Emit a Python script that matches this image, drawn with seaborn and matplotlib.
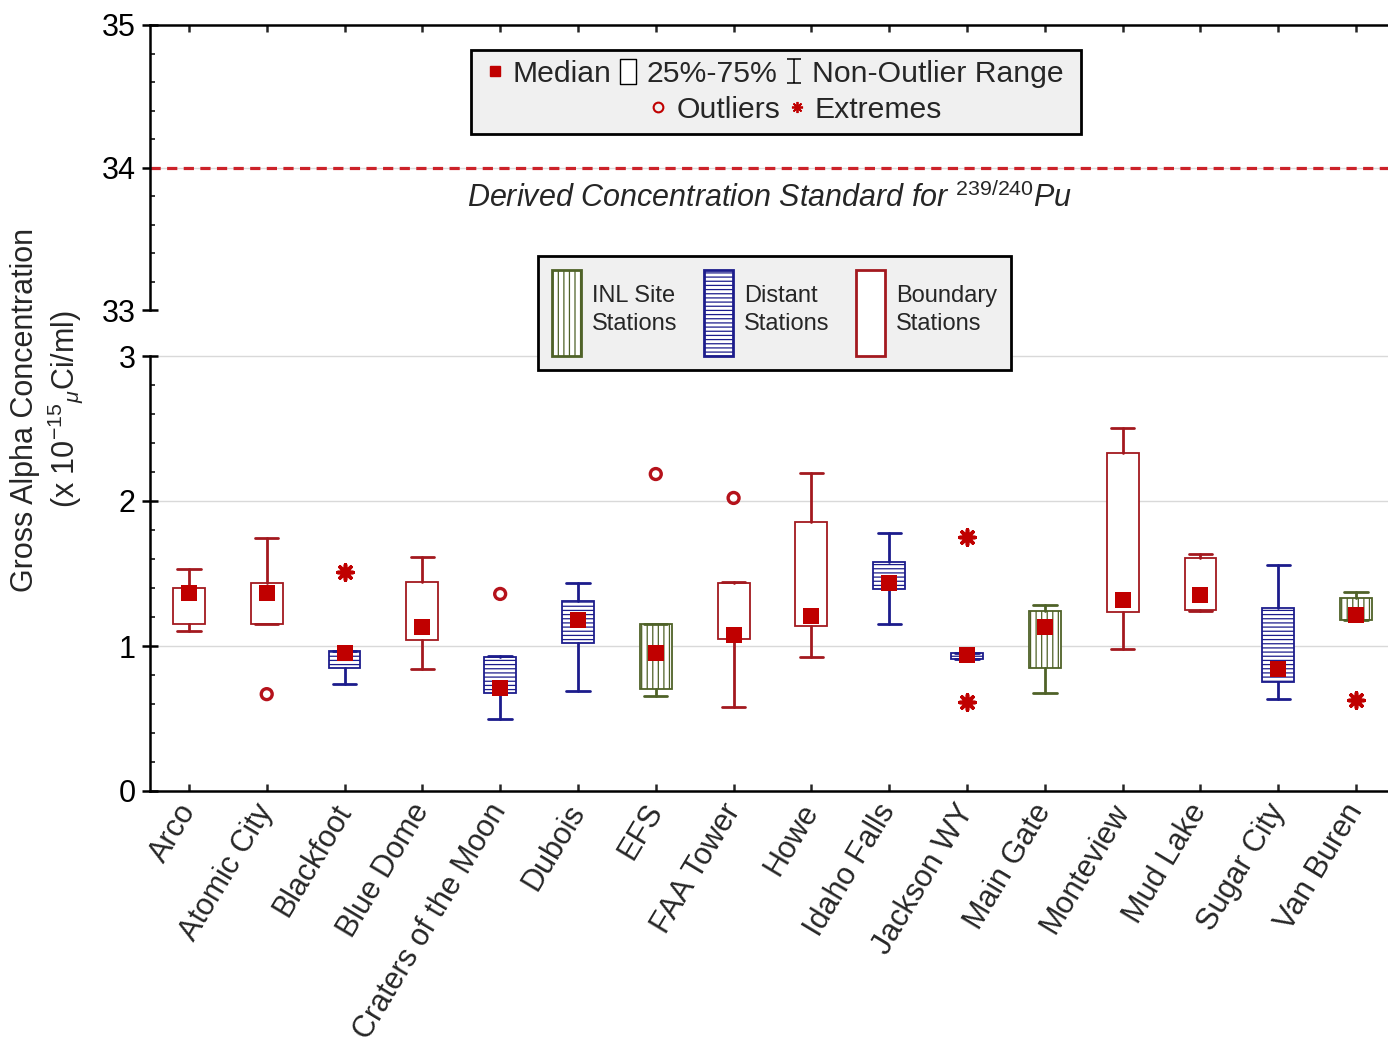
import numpy as np
import pandas as pd
import matplotlib
matplotlib.use("Agg")
import matplotlib.pyplot as plt
import seaborn as sns
from matplotlib.lines import Line2D
from matplotlib.patches import Patch, Rectangle
from matplotlib.path import Path
from matplotlib.ticker import MultipleLocator

# ---------------- data ----------------
stations = ["Arco", "Atomic City", "Blackfoot", "Blue Dome", "Craters of the Moon",
            "Dubois", "EFS", "FAA Tower", "Howe", "Idaho Falls", "Jackson WY",
            "Main Gate", "Monteview", "Mud Lake", "Sugar City", "Van Buren"]
groups = ["Boundary", "Boundary", "Distant", "Boundary", "Distant",
          "Distant", "INL", "Boundary", "Boundary", "Distant", "Distant",
          "INL", "Boundary", "Boundary", "Distant", "INL"]
whisker_low = [1.106, 1.150, 0.738, 0.839, 0.497, 0.692, 0.655, 0.581,
               0.921, 1.152, 0.910, 0.673, 0.976, 1.241, 0.634, 1.179]
q1 = [1.152, 1.150, 0.846, 1.041, 0.679, 1.023, 0.701, 1.048,
      1.140, 1.390, 0.910, 0.845, 1.234, 1.251, 0.754, 1.179]
medians = [1.363, 1.363, 0.950, 1.133, 0.708, 1.179, 0.950, 1.076,
           1.207, 1.437, 0.938, 1.133, 1.317, 1.355, 0.839, 1.217]
q3 = [1.400, 1.437, 0.968, 1.444, 0.921, 1.308, 1.152, 1.437,
      1.856, 1.580, 0.955, 1.244, 2.328, 1.610, 1.259, 1.332]
whisker_high = [1.529, 1.743, 0.968, 1.616, 0.930, 1.437, 1.155, 1.440,
                2.195, 1.777, 0.955, 1.283, 2.506, 1.632, 1.559, 1.369]
outlier_station = ["Atomic City", "Craters of the Moon", "EFS", "FAA Tower"]
outlier_value = [0.668, 1.359, 2.186, 2.021]
extreme_station = ["Blackfoot", "Jackson WY", "Jackson WY", "Van Buren"]
extreme_value = [1.512, 1.753, 0.616, 0.631]
dcs_value = 34.0
lower_ticks = [0, 1, 2, 3]
upper_ticks = [33, 34, 35]

group_colors = {"INL": "#4f6228", "Distant": "#1c1c8c", "Boundary": "#a3191f"}
group_hatch = {"INL": "|||", "Distant": "----", "Boundary": None}
group_labels = {"INL": "INL Site\nStations", "Distant": "Distant\nStations",
                "Boundary": "Boundary\nStations"}
RED = "#c00000"

# ---------------- style ----------------
sns.set_theme(style="white")
plt.rcParams["font.family"] = ["Liberation Sans", "DejaVu Sans"]
plt.rcParams["mathtext.fontset"] = "custom"
plt.rcParams["mathtext.rm"] = "Liberation Sans"
plt.rcParams["mathtext.it"] = "Liberation Sans:italic"
plt.rcParams["hatch.linewidth"] = 0.9

W, H = 1388, 1046
fig = plt.figure(figsize=(W / 100, H / 100), dpi=100)


def fx(px):
    return px / W


def fy(py):
    return 1 - py / H


L, R = 150, 1395
ax_top = fig.add_axes([fx(L), fy(310), fx(R) - fx(L), fy(25) - fy(310)])
ax = fig.add_axes([fx(L), fy(791), fx(R) - fx(L), fy(356) - fy(791)])

n = len(stations)
pos = np.arange(n)

# ---------------- boxes ----------------
stats = [dict(med=m, q1=a, q3=b, whislo=lo, whishi=hi, fliers=[], label=s)
         for s, lo, a, m, b, hi in zip(stations, whisker_low, q1, medians, q3, whisker_high)]
bp = ax.bxp(stats, positions=pos, widths=0.41, capwidths=0.3, patch_artist=True,
            showfliers=False, medianprops=dict(linewidth=0),
            whiskerprops=dict(linewidth=2.0), capprops=dict(linewidth=2.0),
            boxprops=dict(linewidth=1.3), manage_ticks=False)
for i, g in enumerate(groups):
    c = group_colors[g]
    box = bp["boxes"][i]
    box.set_facecolor("white")
    box.set_edgecolor(c)
    if group_hatch[g]:
        box.set_hatch(group_hatch[g])
    for art in bp["whiskers"][2 * i:2 * i + 2] + bp["caps"][2 * i:2 * i + 2]:
        art.set_color(c)

# medians, outliers, extremes via seaborn
df_med = pd.DataFrame({"pos": pos, "median": medians})
sns.scatterplot(data=df_med, x="pos", y="median", marker="s", s=118, color=RED,
                linewidth=0, ax=ax, zorder=5)
df_out = pd.DataFrame({"pos": [stations.index(s) for s in outlier_station],
                       "value": outlier_value})
sns.scatterplot(data=df_out, x="pos", y="value", marker="o", s=62, facecolor="none",
                edgecolor="#b5121b", linewidth=2.4, ax=ax, zorder=5)
df_ext = pd.DataFrame({"pos": [stations.index(s) for s in extreme_station],
                       "value": extreme_value})
sns.scatterplot(data=df_ext, x="pos", y="value", marker=(8, 2, 0), s=120, color=RED,
                linewidth=2.6, ax=ax, zorder=5)

# ---------------- axes formatting ----------------
for a in (ax, ax_top):
    a.set_xlim(-0.5, n - 0.5)
    a.set_xlabel("")
    a.set_ylabel("")
    for sp in a.spines.values():
        sp.set_linewidth(1.8)
        sp.set_color("black")
    a.spines["right"].set_visible(False)
    a.yaxis.set_minor_locator(MultipleLocator(0.2))
    a.tick_params(axis="y", which="major", left=True, direction="inout", length=11,
                  width=1.8, labelsize=22, pad=5, colors="black")
    a.tick_params(axis="y", which="minor", left=True, direction="in", length=3.5,
                  width=1.3)

ax.set_ylim(0, 3)
ax.set_yticks(lower_ticks)
ax.spines["top"].set_visible(False)
for v in lower_ticks[1:]:
    ax.axhline(v, color="#d9d9d9", lw=1.0, zorder=0, clip_on=False)
ax.set_xticks(pos)
ax.set_xticklabels(stations, rotation=59, ha="right", va="center",
                   rotation_mode="anchor", fontsize=22)
ax.tick_params(axis="x", bottom=True, direction="in", length=5, width=1.8, pad=11)

ax_top.set_ylim(33, 35)
ax_top.set_yticks(upper_ticks)
ax_top.spines["bottom"].set_visible(False)
ax_top.set_xticks(pos)
ax_top.tick_params(axis="x", top=True, bottom=False, labelbottom=False,
                   direction="in", length=5, width=1.8)
ax_top.axhline(dcs_value, color="#d9d9d9", lw=1.0, zorder=1)
ax_top.axhline(dcs_value, color="#cc2229", lw=2.3, linestyle=(0, (3.2, 2.0)), zorder=2)
fig.text(fx(770), fy(198), r"Derived Concentration Standard for $^{\mathit{239/240}}$Pu",
         style="italic", fontsize=22, ha="center", va="center")

# y label
fig.text(fx(25), fy(410), "Gross Alpha Concentration", rotation=90, fontsize=22,
         ha="center", va="center")
fig.text(fx(66), fy(409), r"(x 10$^{-15}$$_{\mu}$Ci/ml)", rotation=90, fontsize=22,
         ha="center", va="center")

# ---------------- legend 1 (box plot key) ----------------
fig.add_artist(Rectangle((fx(471), fy(134)), fx(1081) - fx(471), fy(50) - fy(134),
                         transform=fig.transFigure, facecolor="#f0f0f0",
                         edgecolor="black", linewidth=2, zorder=4))
box_path = Path([(-0.33, -0.5), (0.33, -0.5), (0.33, 0.5), (-0.33, 0.5), (-0.33, -0.5)],
                [Path.MOVETO, Path.LINETO, Path.LINETO, Path.LINETO, Path.CLOSEPOLY])
ibeam_path = Path([(-0.3, -0.5), (0.3, -0.5), (0, -0.5), (0, 0.5), (-0.3, 0.5), (0.3, 0.5)],
                  [Path.MOVETO, Path.LINETO, Path.MOVETO, Path.LINETO, Path.MOVETO, Path.LINETO])
h_med = Line2D([], [], marker="s", linestyle="none", color=RED, markersize=7.5)
h_box = Line2D([], [], marker=box_path, linestyle="none", markerfacecolor="white",
               markeredgecolor="black", markeredgewidth=1.0, markersize=18)
h_rng = Line2D([], [], marker=ibeam_path, linestyle="none", markerfacecolor="none",
               markeredgecolor="black", markeredgewidth=1.1, markersize=17)
leg1 = fig.legend([h_med, h_box, h_rng], ["Median", "25%-75%", "Non-Outlier Range"],
                  loc="center", bbox_to_anchor=(fx(774), fy(74)), ncol=3, frameon=False,
                  fontsize=21.7, handlelength=0.7, handletextpad=0.25, columnspacing=0.2,
                  borderpad=0, borderaxespad=0)
h_out = Line2D([], [], marker="o", linestyle="none", markerfacecolor="none",
               markeredgecolor=RED, markeredgewidth=1.5, markersize=7)
h_ext = Line2D([], [], marker=(8, 2, 0), linestyle="none", color=RED,
               markeredgewidth=1.3, markersize=8)
leg1b = fig.legend([h_out, h_ext], ["Outliers", "Extremes"], loc="center",
                   bbox_to_anchor=(fx(795), fy(110)), ncol=2, frameon=False,
                   fontsize=21.7, handlelength=0.7, handletextpad=0.25, columnspacing=0.2,
                   borderpad=0, borderaxespad=0)
leg1.set_zorder(6)
leg1b.set_zorder(6)

# ---------------- legend 2 (station groups) ----------------
grp_order = ["INL", "Distant", "Boundary"]
grp_handles = [Patch(facecolor="white", edgecolor=group_colors[g], hatch=group_hatch[g],
                     linewidth=2) for g in grp_order]
leg2 = fig.legend(grp_handles, [group_labels[g] for g in grp_order], loc="center",
                  bbox_to_anchor=(fx(774.5), fy(313)), ncol=3, fontsize=17,
                  handlelength=1.25, handleheight=5.2, handletextpad=0.45,
                  columnspacing=1.12, borderpad=0.6, fancybox=False, framealpha=1,
                  facecolor="#f0f0f0", edgecolor="black")
leg2.get_frame().set_linewidth(2)
for t in leg2.get_texts():
    t.set_linespacing(1.35)
leg2.set_zorder(7)

fig.savefig("out.png", dpi=100)
